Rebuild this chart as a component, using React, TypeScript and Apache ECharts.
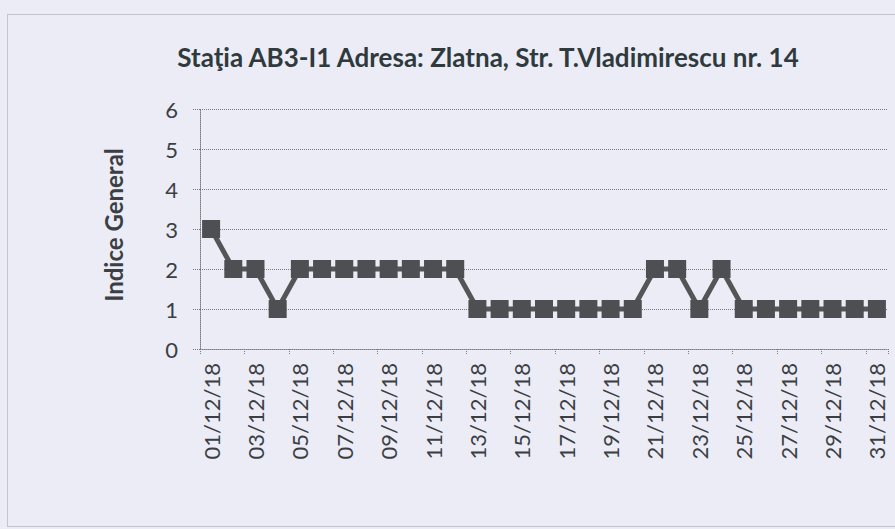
import React, { useEffect, useRef } from "react";
import * as echarts from "echarts";

const titleText = "Staţia AB3-I1 Adresa: Zlatna, Str. T.Vladimirescu nr. 14";
const yAxisTitle = "Indice General";
const days = [
  "01/12/18", "02/12/18", "03/12/18", "04/12/18", "05/12/18", "06/12/18", "07/12/18", "08/12/18",
  "09/12/18", "10/12/18", "11/12/18", "12/12/18", "13/12/18", "14/12/18", "15/12/18", "16/12/18",
  "17/12/18", "18/12/18", "19/12/18", "20/12/18", "21/12/18", "22/12/18", "23/12/18", "24/12/18",
  "25/12/18", "26/12/18", "27/12/18", "28/12/18", "29/12/18", "30/12/18", "31/12/18",
];
const indice = [3, 2, 2, 1, 2, 2, 2, 2, 2, 2, 2, 2, 1, 1, 1, 1, 1, 1, 1, 1, 2, 2, 1, 2, 1, 1, 1, 1, 1, 1, 1];
const yMin = 0;
const yMax = 6;
const yStep = 1;

const FONT = "Lato, 'Open Sans', sans-serif";
const BG = "#ECECF6";
const TXT = "#3b3f44";
const GRID = "#7a7a80";

export default function App() {
  const ref = useRef<HTMLDivElement>(null);
  useEffect(() => {
    if (!ref.current) return;
    const chart = echarts.init(ref.current, undefined, { renderer: "svg" });
    chart.setOption({
      animation: false,
      backgroundColor: BG,
      grid: { left: 200, right: 7, top: 109, bottom: 180, containLabel: false },
      graphic: [
        {
          type: "rect",
          shape: { x: 7.5, y: 14.5, width: 1000, height: 512 },
          style: { fill: "none", stroke: "#9a9aa6", lineWidth: 1, lineDash: [1, 1] },
          silent: true,
        },
        {
          type: "text",
          x: 488,
          y: 57,
          style: {
            text: titleText,
            fill: "#2f3a3d",
            font: `bold 26px ${FONT}`,
            textAlign: "center",
            textVerticalAlign: "middle",
          },
        },
        {
          type: "text",
          x: 113,
          y: 225,
          rotation: Math.PI / 2,
          style: {
            text: yAxisTitle,
            fill: TXT,
            font: `bold 24px ${FONT}`,
            textAlign: "center",
            textVerticalAlign: "middle",
          },
        },
      ],
      xAxis: {
        type: "category",
        data: days,
        boundaryGap: true,
        axisLine: { show: true, lineStyle: { color: GRID, type: [1, 1], width: 1 } },
        axisTick: { show: true, interval: 1, length: 6, lineStyle: { color: GRID, type: [1, 1] } },
        axisLabel: {
          interval: 1,
          rotate: 90,
          margin: 14,
          color: TXT,
          fontFamily: FONT,
          fontSize: 22,
        },
        splitLine: { show: false },
      },
      yAxis: {
        type: "value",
        min: yMin,
        max: yMax,
        interval: yStep,
        axisLine: { show: true, lineStyle: { color: GRID, type: [1, 1], width: 1 } },
        axisTick: { show: true, length: 7, lineStyle: { color: GRID, type: [1, 1] } },
        axisLabel: { color: TXT, fontFamily: FONT, fontSize: 22, margin: 22 },
        splitLine: { show: true, lineStyle: { color: GRID, type: [1, 1], width: 1 } },
      },
      series: [
        {
          type: "line",
          data: indice,
          symbol: "rect",
          symbolSize: 18,
          showAllSymbol: true,
          lineStyle: { color: "#555558", width: 5 },
          itemStyle: { color: "#4e4f52", borderWidth: 0 },
          z: 3,
        },
      ],
    });
    return () => chart.dispose();
  }, []);
  return (
    <div
      ref={ref}
      style={{ position: "fixed", left: 0, top: 0, width: 895, height: 529, background: BG }}
    />
  );
}
